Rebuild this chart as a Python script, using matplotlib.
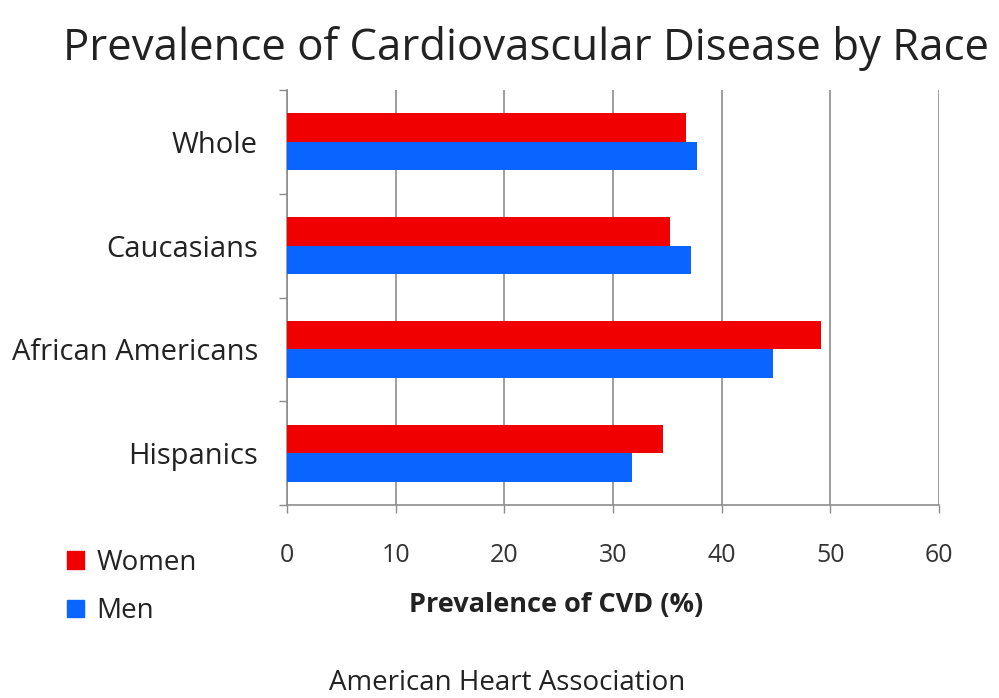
import matplotlib.pyplot as plt
import numpy as np
from matplotlib.patches import Patch

plt.rcParams["font.family"] = ["Open Sans", "DejaVu Sans"]

categories = ["Whole", "Caucasians", "African Americans", "Hispanics"]
women = [36.7, 35.2, 49.1, 34.6]
men = [37.7, 37.2, 44.7, 31.7]
xticks = [0, 10, 20, 30, 40, 50, 60]

RED = "#F00000"
BLUE = "#0A64FF"
GREY = "#8c8c8c"
TXT = "#222222"

fig = plt.figure(figsize=(9.99, 6.98), dpi=100)
ax = fig.add_axes([0.2873, 0.2765, 0.6527, 0.5945])

y = np.arange(len(categories))
h = 0.275
ax.barh(y - h / 2, women, h, color=RED, zorder=3)
ax.barh(y + h / 2, men, h, color=BLUE, zorder=3)

ax.set_xlim(0, 60)
ax.set_ylim(len(categories) - 0.5, -0.5)
ax.set_xticks(xticks)
ax.set_xticklabels([str(t) for t in xticks], fontsize=18, color="#333333")
ax.set_yticks(y)
ax.set_yticklabels(categories, fontsize=21, color=TXT)
ax.set_yticks(np.arange(-0.5, len(categories), 1.0), minor=True)
ax.tick_params(axis="y", which="major", length=0, pad=21)
ax.tick_params(axis="y", which="minor", length=6, color=GREY, width=1)
ax.tick_params(axis="x", length=6, color=GREY, width=1, pad=21)
ax.grid(True, axis="x", color=GREY, linewidth=1.2, zorder=0)
for s in ["top", "right"]:
    ax.spines[s].set_visible(False)
for s in ["left", "bottom"]:
    ax.spines[s].set_color(GREY)
    ax.spines[s].set_linewidth(1.2)

fig.text(0.557, 0.133, "Prevalence of CVD (%)", ha="center", va="center",
         fontsize=19.5, fontweight="bold", color=TXT)

fig.text(0.527, 0.931, "Prevalence of Cardiovascular Disease by Race",
         ha="center", va="center", fontsize=31.5, color=TXT)
fig.text(0.508, 0.021, "American Heart Association", ha="center", va="center",
         fontsize=20, color=TXT)

handles = [Patch(color=RED, label="Women"), Patch(color=BLUE, label="Men")]
fig.legend(handles=handles, loc="upper left", bbox_to_anchor=(0.042, 0.25),
           frameon=False, fontsize=20, handlelength=0.6, handleheight=0.6,
           handletextpad=0.45, labelspacing=0.75, labelcolor=TXT)

fig.savefig("out.png", dpi=100)
